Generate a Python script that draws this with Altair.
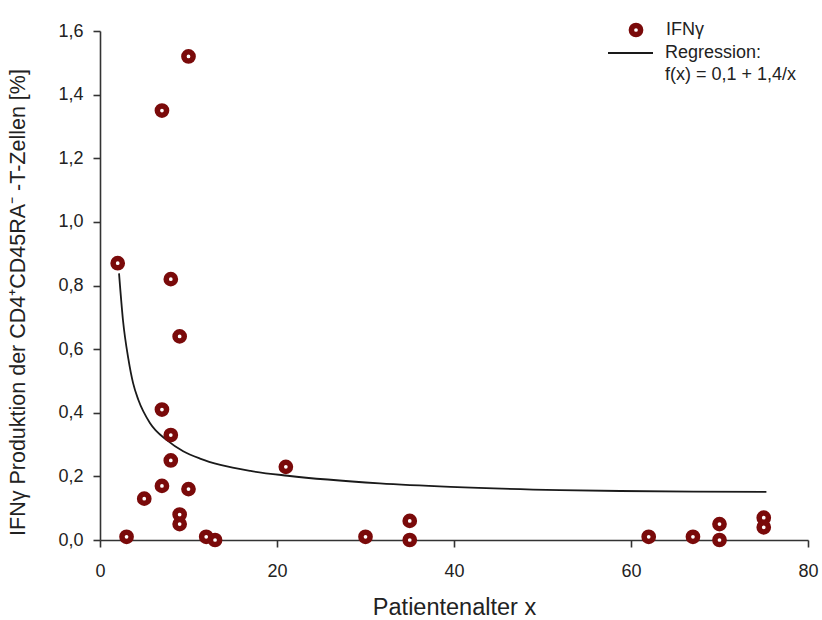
import altair as alt
import pandas as pd

# measured points (patient age, IFN-gamma production %)
age = [2, 3, 5, 7, 7, 7, 8, 8, 8, 9, 9, 9, 10, 10, 12, 13, 21, 30, 35, 35, 62, 67, 70, 70, 75, 75]
ifn = [0.87, 0.01, 0.13, 1.35, 0.41, 0.17, 0.82, 0.33, 0.25, 0.64, 0.08, 0.05, 1.52, 0.16,
       0.01, 0.00, 0.23, 0.01, 0.06, 0.00, 0.01, 0.01, 0.05, 0.00, 0.07, 0.04]

# regression curve
curve_x = [2.15, 2.6, 3.2, 3.74, 4.34, 5.66, 7.59, 9.4, 11.3, 13.6, 17, 21.2, 31.6, 39.6, 52, 58.8, 67.1, 75.3]
curve_y = [0.838, 0.69, 0.57, 0.493, 0.44, 0.367, 0.313, 0.279, 0.256, 0.236, 0.217, 0.202, 0.178, 0.167,
           0.157, 0.154, 0.152, 0.151]

x_ticks = [0, 20, 40, 60, 80]
y_ticks = [0.0, 0.2, 0.4, 0.6, 0.8, 1.0, 1.2, 1.4, 1.6]

point_label = ["IFNγ"]
line_labels = ["Regression:", "f(x) = 0,1 + 1,4/x"]

pts = pd.DataFrame({"age": age, "ifn": ifn, "series_p": point_label[0]})
crv = pd.DataFrame({"age": curve_x, "ifn": curve_y, "series_l": line_labels[0]})

FONT = "Liberation Sans"
TXT = "#222222"
MAROON = "#7a0a0a"

x_enc = alt.X(
    "age:Q",
    scale=alt.Scale(domain=[0, 80], nice=False, zero=False),
    axis=alt.Axis(
        values=x_ticks, title="Patientenalter x", grid=False, labelFlush=False,
        tickSize=7, labelPadding=15, titleY=74, titleBaseline="alphabetic",
        titleFontSize=23.5,
    ),
)
y_enc = alt.Y(
    "ifn:Q",
    scale=alt.Scale(domain=[0, 1.6], nice=False, zero=False),
    axis=alt.Axis(
        values=y_ticks, labelFlush=False,
        labelExpr="replace(format(datum.value, '.1f'), '.', ',')",
        title="IFNγ Produktion der CD4⁺CD45RA⁻ -T-Zellen [%]",
        grid=False, tickSize=7, labelPadding=10,
        titleX=-82, titleY=271, titleBaseline="middle", titleAlign="center",
        titleFontSize=21.5,
    ),
)

line = alt.Chart(crv).mark_line(strokeWidth=1.8, interpolate="monotone").encode(
    x=x_enc,
    y=y_enc,
    stroke=alt.Stroke(
        "series_l:N",
        scale=alt.Scale(domain=line_labels, range=["#1a1a1a", "rgba(0,0,0,0)"]),
        legend=alt.Legend(
            orient="none", legendX=521.5, legendY=13, title=None,
            symbolType="M-4.5,0H4.5", symbolSize=100, symbolStrokeWidth=1.8,
            labelFont=FONT, labelFontSize=18, labelColor=TXT, labelOffset=25.5,
            rowPadding=4, padding=0,
        ),
    ),
)

points = alt.Chart(pts).mark_point(
    shape="circle", filled=False, fill="white", fillOpacity=1, size=85, strokeWidth=5.5, opacity=1
).encode(
    x=x_enc,
    y=y_enc,
    color=alt.Color(
        "series_p:N",
        scale=alt.Scale(domain=point_label, range=[MAROON]),
        legend=alt.Legend(
            orient="none", legendX=527, legendY=-10, title=None,
            symbolType="circle", symbolSize=85, symbolStrokeWidth=5.5, symbolFillColor="white",
            labelFont=FONT, labelFontSize=18, labelColor=TXT, labelOffset=21, padding=0,
        ),
    ),
)

chart = (
    alt.layer(line, points)
    .resolve_scale(color="independent", stroke="independent")
    .properties(
        width=708, height=509,
        padding={"left": 100, "top": 31, "right": 14, "bottom": 80},
        autosize=alt.AutoSizeParams(type="none"),
        background="white",
    )
    .configure_view(stroke=None)
    .configure_axis(
        labelFont=FONT, titleFont=FONT, labelFontSize=18, titleFontSize=22,
        labelColor=TXT, titleColor=TXT, titleFontWeight="normal",
        domainColor="#333333", tickColor="#333333", domainWidth=1.6, tickWidth=1.6,
    )
)

chart.save("out.html", embed_options={"renderer": "svg", "actions": False})
